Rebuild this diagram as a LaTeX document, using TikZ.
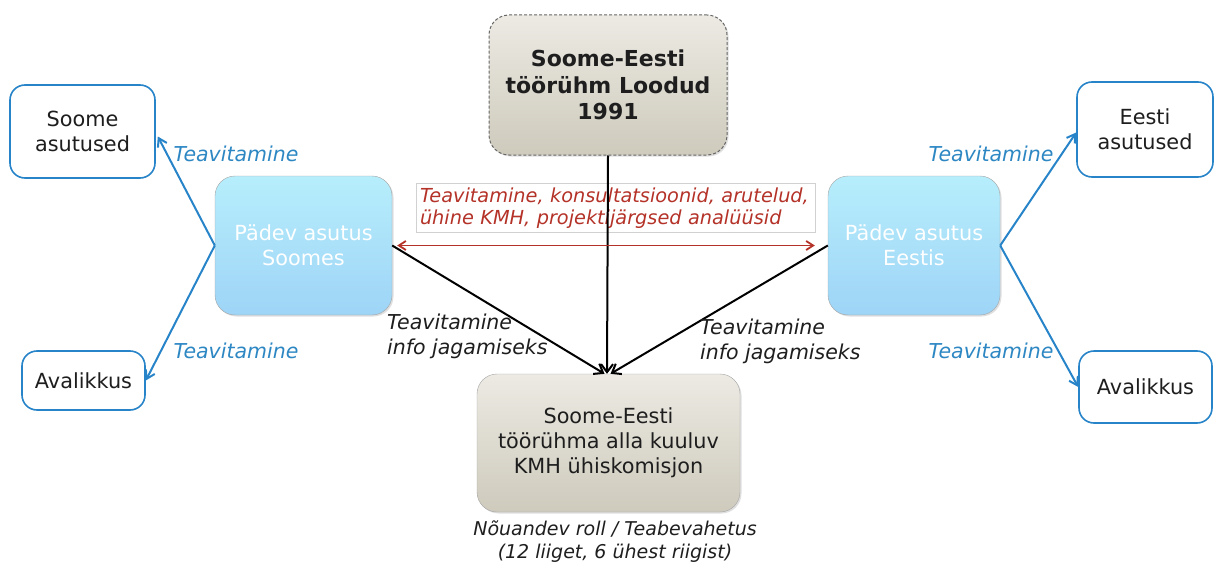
\documentclass[tikz,border=0pt]{standalone}
\usepackage{fontspec}
\setmainfont{DejaVu Sans}
\usetikzlibrary{arrows.meta,calc,shadows}
\definecolor{bblue}{RGB}{40,132,200}
\definecolor{tblue}{RGB}{45,135,195}
\definecolor{rred}{RGB}{180,50,40}
\definecolor{txt}{RGB}{30,30,30}
\definecolor{gtop}{RGB}{236,234,227}
\definecolor{gbot}{RGB}{206,202,188}
\definecolor{btop}{RGB}{183,238,252}
\definecolor{bbot}{RGB}{158,212,246}
\begin{document}
\begin{tikzpicture}[x=1pt,y=-1pt,
  box/.style={rounded corners=20pt, align=center, inner sep=0pt, text=txt},
  shad/.style={drop shadow={opacity=0.25, shadow xshift=1.5pt, shadow yshift=-1.5pt}},
  graybox/.style={box, shad, top color=gtop, bottom color=gbot, draw=black!35},
  bluebox/.style={box, shad, top color=btop, bottom color=bbot, draw=black!35, text=white},
  whitebox/.style={box, rounded corners=15pt, draw=bblue, line width=1.6pt, fill=white},
  mtext/.style={font=\fontsize{20.8}{25}\selectfont},
  lbl/.style={font=\fontsize{20.5}{25}\selectfont\itshape, inner sep=0pt, align=left},
  blueline/.style={draw=bblue, line width=2pt, -{Straight Barb[length=8pt,width=10pt]}},
  blackline/.style={draw=black, line width=2pt, -{Straight Barb[length=8pt,width=12pt]}},
]
\useasboundingbox (0,0) rectangle (1215,567);
% boxes
\node[graybox, draw=black!60, line width=1pt, dash pattern=on 3pt off 2pt, minimum width=238pt, minimum height=140pt,
  font=\fontsize{22}{26.5}\selectfont\bfseries] (top) at (608,85) {Soome-Eesti\\töörühm Loodud\\1991};
\node[bluebox, minimum width=177pt, minimum height=139pt, mtext] (lb) at (303.5,245.5) {Pädev asutus\\Soomes};
\node[bluebox, minimum width=172pt, minimum height=139pt, mtext] (rb) at (914,245.5) {Pädev asutus\\Eestis};
\node[graybox, minimum width=263pt, minimum height=138pt, mtext] (bot) at (608.5,443) {Soome-Eesti\\töörühma alla kuuluv\\KMH ühiskomisjon};
\node[whitebox, minimum width=145pt, minimum height=93pt, mtext] (sa) at (82.5,131.5) {Soome\\asutused};
\node[whitebox, minimum width=123pt, minimum height=59pt, mtext] (al) at (83.5,380.5) {Avalikkus};
\node[whitebox, minimum width=136pt, minimum height=95pt, mtext] (ea) at (1145,129.5) {Eesti\\asutused};
\node[whitebox, minimum width=133pt, minimum height=72pt, mtext] (ar) at (1145.5,387) {Avalikkus};
% red label box
\node[draw=black!18, fill=white, minimum width=399pt, minimum height=44pt, text width=391pt,
  align=left, inner sep=4pt, text=rred, font=\fontsize{19.3}{22}\selectfont\itshape] (red) at (615.5,208)
  {Teavitamine, konsultatsioonid, arutelud,\\ühine KMH, projektijärgsed analüüsid};
% connectors
\draw[blackline] (top.south) -- ($(bot.north)+(-1.5,0)$);
\draw[blackline] (lb.east) -- ($(bot.north)+(-4,0)$);
\draw[blackline] (rb.west) -- ($(bot.north)+(2,0)$);
\draw[draw=rred, line width=1.8pt, {Straight Barb[length=7pt,width=9pt]}-{Straight Barb[length=7pt,width=9pt]}, shorten <=5pt, shorten >=13pt] (lb.east) -- (rb.west);
\draw[blueline] (lb.west) -- ($(sa.east)+(2,5)$);
\draw[blueline] (lb.west) -- (al.east);
\draw[blueline] (rb.east) -- ($(ea.west)+(0,3)$);
\draw[blueline] (rb.east) -- (ar.west);
% labels
\node[lbl, text=tblue] (t1) at (236,154) {Teavitamine};
\node[lbl, text=tblue] (t2) at (236,351) {Teavitamine};
\node[lbl, text=tblue] (t3) at (991,154) {Teavitamine};
\node[lbl, text=tblue] (t4) at (991,351) {Teavitamine};
\node[lbl, text=txt, anchor=north west] (b1) at (387,314) {Teavitamine\\info jagamiseks};
\node[lbl, text=txt, anchor=north west] (b2) at (700,319) {Teavitamine\\info jagamiseks};
\node[font=\fontsize{19}{23}\selectfont\itshape, text=txt, align=center, inner sep=0pt] (cap) at (615,541.5)
  {Nõuandev roll / Teabevahetus\\(12 liiget, 6 ühest riigist)};
\end{tikzpicture}
\end{document}
